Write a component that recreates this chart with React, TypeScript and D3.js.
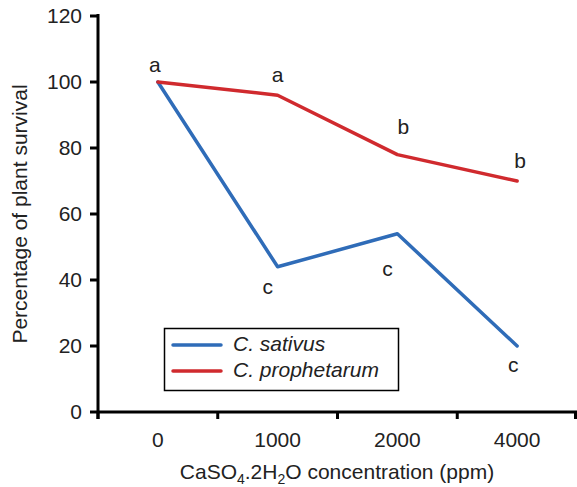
import React from "react";
import * as d3 from "d3";

const categories = ["0", "1000", "2000", "4000"];
const sativus = [100, 44, 54, 20];
const prophetarum = [100, 96, 78, 70];
const sativusLetters = ["", "c", "c", "c"];
const prophetarumLetters = ["a", "a", "b", "b"];
const yTicks = [0, 20, 40, 60, 80, 100, 120];

const W = 577, H = 487;
const FONT = "'Liberation Sans', Arial, Helvetica, sans-serif";

export default function App() {
  const x = d3.scaleBand<string>().domain(categories).range([98, 577]);
  const y = d3.scaleLinear().domain([0, 120]).range([412, 16]);
  const cx = (c: string) => (x(c) as number) + x.bandwidth() / 2;
  const line = d3.line<[string, number]>().x(d => cx(d[0])).y(d => y(d[1]));
  const sData = categories.map((c, i) => [c, sativus[i]] as [string, number]);
  const pData = categories.map((c, i) => [c, prophetarum[i]] as [string, number]);
  const blue = "#2f6cb8";
  const red = "#d02a2e";
  const bounds = [...categories.map(c => x(c) as number), 577];
  const fs = 21;

  return (
    <svg width={W} height={H} style={{ position: "absolute", left: 0, top: 0 }} fontFamily={FONT}>
      <rect width={W} height={H} fill="white" />
      {/* y axis */}
      <line x1={98} x2={98} y1={14} y2={419} stroke="black" strokeWidth={3} />
      {yTicks.map(t => (
        <g key={t}>
          <line x1={90} x2={98} y1={y(t)} y2={y(t)} stroke="black" strokeWidth={3} />
          <text x={82} y={y(t)} dy="0.35em" textAnchor="end" fontSize={fs} fill="#222">{t}</text>
        </g>
      ))}
      {/* x axis */}
      <line x1={97} x2={577} y1={412} y2={412} stroke="black" strokeWidth={3} />
      {bounds.map((b, i) => (
        <line key={i} x1={Math.min(b, 575.5)} x2={Math.min(b, 575.5)} y1={412} y2={419} stroke="black" strokeWidth={3} />
      ))}
      {categories.map(c => (
        <text key={c} x={cx(c)} y={447} textAnchor="middle" fontSize={fs} fill="#222">{c}</text>
      ))}
      <text x={337} y={479} textAnchor="middle" fontSize={fs} fill="#222">
        CaSO<tspan fontSize={14} dy={5}>4</tspan>
        <tspan dy={-5}>.2H</tspan>
        <tspan fontSize={14} dy={5}>2</tspan>
        <tspan dy={-5}>O concentration (ppm)</tspan>
      </text>
      <text transform="translate(27,214) rotate(-90)" textAnchor="middle" fontSize={fs} fill="#222">
        Percentage of plant survival
      </text>
      {/* lines */}
      <path d={line(sData) || ""} fill="none" stroke={blue} strokeWidth={3.5} strokeLinejoin="round" strokeLinecap="round" />
      <path d={line(pData) || ""} fill="none" stroke={red} strokeWidth={3.5} strokeLinejoin="round" strokeLinecap="round" />
      {/* letters */}
      {categories.map((c, i) => prophetarumLetters[i] ? (
        <text key={"p" + c} x={cx(c) + [-3, 0, 6, 3][i]} y={y(prophetarum[i]) - [10, 13, 21, 13][i]} textAnchor="middle" fontSize={fs} fill="#222">{prophetarumLetters[i]}</text>
      ) : null)}
      {categories.map((c, i) => sativusLetters[i] ? (
        <text key={"s" + c} x={cx(c) + [0, -10, -10, -4][i]} y={y(sativus[i]) + [0, 27, 42, 26][i]} textAnchor="middle" fontSize={fs} fill="#222">{sativusLetters[i]}</text>
      ) : null)}
      {/* legend */}
      <rect x={164.5} y={328.5} width={234} height={62} fill="white" stroke="black" strokeWidth={1.5} />
      <line x1={173} x2={221} y1={345} y2={345} stroke={blue} strokeWidth={3.5} strokeLinecap="round" />
      <line x1={173} x2={221} y1={371} y2={371} stroke={red} strokeWidth={3.5} strokeLinecap="round" />
      <text x={233} y={351} fontSize={fs} fontStyle="italic" fill="#222">C. sativus</text>
      <text x={233} y={377} fontSize={fs} fontStyle="italic" fill="#222">C. prophetarum</text>
    </svg>
  );
}
